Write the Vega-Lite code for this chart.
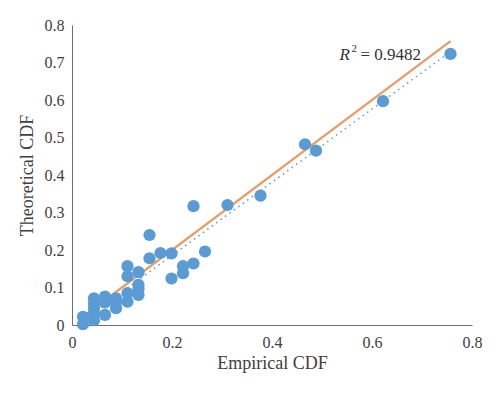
{
  "$schema": "https://vega.github.io/schema/vega-lite/v6.json",
  "width": 400,
  "height": 300,
  "autosize": "none",
  "padding": {"left": 72, "top": 25, "right": 28, "bottom": 68},
  "background": "white",
  "config": {
    "view": {"stroke": null},
    "font": "Liberation Serif",
    "axis": {
      "labelFont": "Liberation Serif",
      "titleFont": "Liberation Serif",
      "labelFontSize": 16,
      "titleFontSize": 18,
      "titleFontWeight": "normal",
      "labelColor": "#404040",
      "titleColor": "#404040",
      "domainColor": "#6e6e6e",
      "labelFlush": false,
      "labelOverlap": false,
      "ticks": false,
      "grid": false
    }
  },
  "datasets": {
    "pts": [
      {"emp": 0.757, "theo": 0.723},
      {"emp": 0.622, "theo": 0.597},
      {"emp": 0.466, "theo": 0.482},
      {"emp": 0.488, "theo": 0.465},
      {"emp": 0.377, "theo": 0.345},
      {"emp": 0.311, "theo": 0.32},
      {"emp": 0.243, "theo": 0.317},
      {"emp": 0.155, "theo": 0.24},
      {"emp": 0.155, "theo": 0.178},
      {"emp": 0.177, "theo": 0.192},
      {"emp": 0.199, "theo": 0.191},
      {"emp": 0.266, "theo": 0.196},
      {"emp": 0.243, "theo": 0.164},
      {"emp": 0.222, "theo": 0.157},
      {"emp": 0.222, "theo": 0.138},
      {"emp": 0.199, "theo": 0.124},
      {"emp": 0.111, "theo": 0.157},
      {"emp": 0.111, "theo": 0.13},
      {"emp": 0.133, "theo": 0.141},
      {"emp": 0.133, "theo": 0.107},
      {"emp": 0.133, "theo": 0.096},
      {"emp": 0.133, "theo": 0.08},
      {"emp": 0.111, "theo": 0.085},
      {"emp": 0.111, "theo": 0.062},
      {"emp": 0.088, "theo": 0.071},
      {"emp": 0.088, "theo": 0.06},
      {"emp": 0.088, "theo": 0.045},
      {"emp": 0.066, "theo": 0.076},
      {"emp": 0.066, "theo": 0.06},
      {"emp": 0.066, "theo": 0.027},
      {"emp": 0.044, "theo": 0.071},
      {"emp": 0.044, "theo": 0.058},
      {"emp": 0.044, "theo": 0.045},
      {"emp": 0.044, "theo": 0.03},
      {"emp": 0.044, "theo": 0.013},
      {"emp": 0.022, "theo": 0.022},
      {"emp": 0.022, "theo": 0.002}
    ],
    "ref": [
      {"emp": 0.022, "theo": 0.022},
      {"emp": 0.757, "theo": 0.757}
    ],
    "trend": [
      {"emp": 0.022, "theo": 0.012},
      {"emp": 0.757, "theo": 0.729}
    ],
    "label": [
      {"emp": 0.535, "theo": 0.72, "r": "R"}
    ]
  },
  "encoding": {
    "x": {"field": "emp", "type": "quantitative", "scale": {"domain": [0, 0.8], "nice": false},
          "axis": {"title": "Empirical CDF", "tickCount": 4, "format": "~g", "labelPadding": 9, "titlePadding": 4}},
    "y": {"field": "theo", "type": "quantitative", "scale": {"domain": [0, 0.8], "nice": false},
          "axis": {"title": "Theoretical CDF", "tickCount": 8, "format": "~g", "labelPadding": 8, "titlePadding": 8}}
  },
  "layer": [
    {
      "data": {"name": "ref"},
      "mark": {"type": "line", "color": "#EE9B62", "strokeWidth": 2.2}
    },
    {
      "data": {"name": "trend"},
      "mark": {"type": "line", "color": "#5B9BD5", "strokeWidth": 1.5, "strokeDash": [1.5, 4]}
    },
    {
      "data": {"name": "pts"},
      "mark": {"type": "circle", "color": "#5B9BD5", "opacity": 1, "size": 150}
    },
    {
      "data": {"name": "label"},
      "mark": {"type": "text", "font": "Liberation Serif", "fontSize": 17, "fontStyle": "italic", "align": "left", "baseline": "middle", "color": "#333333"},
      "encoding": {"text": {"field": "r"}}
    },
    {
      "data": {"name": "label"},
      "mark": {"type": "text", "font": "Liberation Serif", "fontSize": 11, "align": "left", "baseline": "middle", "dx": 12, "dy": -6, "color": "#333333"},
      "encoding": {"text": {"value": "2"}}
    },
    {
      "data": {"name": "label"},
      "mark": {"type": "text", "font": "Liberation Serif", "fontSize": 17, "align": "left", "baseline": "middle", "dx": 21, "color": "#333333"},
      "encoding": {"text": {"value": "= 0.9482"}}
    }
  ]
}
